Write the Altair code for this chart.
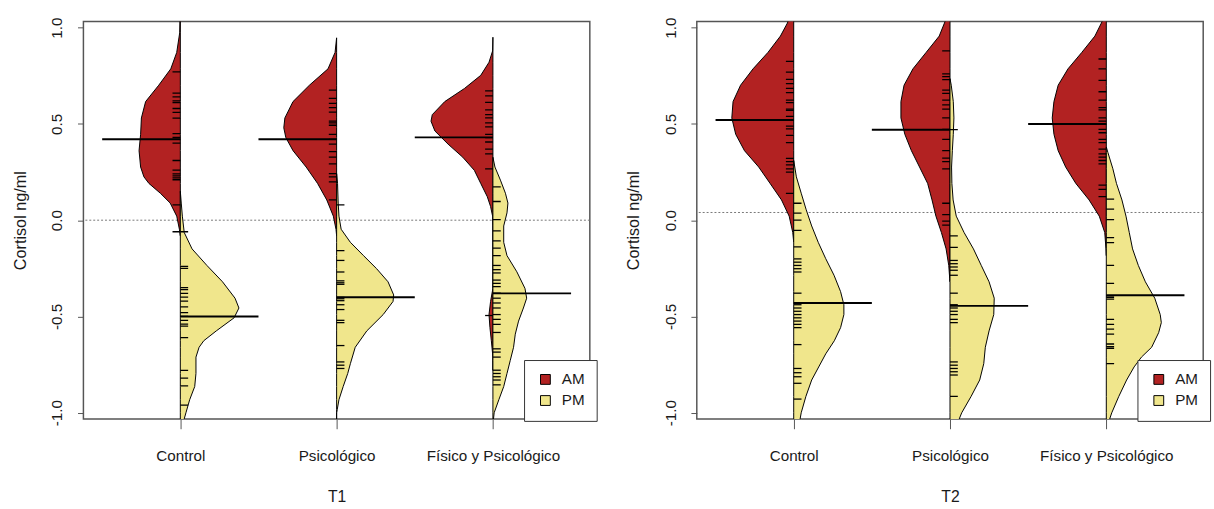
import json
import altair as alt
import pandas as pd

CATEGORIES = ["Control", "Psicológico", "Físico y Psicológico"]
PANELS = ["T1", "T2"]
SESSIONS = ["AM", "PM"]
SESSION_COLORS = ["#B22222", "#F0E68C"]
Y_TICKS = [-1.0, -0.5, 0.0, 0.5, 1.0]

# ---- density outlines (value, half-width in category units) ----
T1_CONTROL_AM_Y = [1.06, 0.973, 0.871, 0.786, 0.701, 0.616, 0.531, 0.446, 0.361, 0.276, 0.225, 0.191, 0.140, 0.089, 0.021, -0.047, -0.081]
T1_CONTROL_AM_W = [0.002, 0.004, 0.023, 0.061, 0.138, 0.222, 0.249, 0.254, 0.264, 0.254, 0.233, 0.201, 0.128, 0.065, 0.023, 0.006, 0.0]
T1_CONTROL_PM_Y = [0.15, 0.089, 0.021, -0.064, -0.149, -0.235, -0.32, -0.405, -0.456, -0.507, -0.575, -0.626, -0.66, -0.711, -0.796, -0.864, -0.932, -1.0, -1.06]
T1_CONTROL_PM_W = [0.0, 0.006, 0.013, 0.025, 0.075, 0.17, 0.27, 0.35, 0.375, 0.344, 0.23, 0.15, 0.12, 0.1, 0.1, 0.092, 0.06, 0.036, 0.015]

T1_PSICO_AM_Y = [0.947, 0.871, 0.786, 0.701, 0.616, 0.531, 0.48, 0.429, 0.361, 0.276, 0.191, 0.105, 0.021, -0.047, -0.081]
T1_PSICO_AM_W = [0.0, 0.01, 0.055, 0.174, 0.279, 0.331, 0.338, 0.325, 0.279, 0.195, 0.122, 0.063, 0.021, 0.004, 0.0]
T1_PSICO_PM_Y = [0.242, 0.191, 0.089, 0.021, -0.047, -0.115, -0.184, -0.252, -0.32, -0.388, -0.422, -0.49, -0.575, -0.66, -0.745, -0.796, -0.864, -0.932, -0.983, -1.0, -1.06]
T1_PSICO_PM_W = [0.0, 0.006, 0.01, 0.015, 0.029, 0.088, 0.172, 0.256, 0.329, 0.365, 0.361, 0.298, 0.193, 0.119, 0.088, 0.071, 0.042, 0.015, 0.004, 0.0, 0.0]

T1_FISICO_AM_Y = [0.95, 0.879, 0.82, 0.752, 0.684, 0.616, 0.548, 0.514, 0.463, 0.395, 0.327, 0.259, 0.191, 0.122, 0.071, 0.021, -0.03, -0.354, -0.422, -0.49, -0.558, -0.626, -0.711, -0.78]
T1_FISICO_AM_W = [0.0, 0.002, 0.025, 0.078, 0.182, 0.308, 0.388, 0.396, 0.371, 0.287, 0.193, 0.119, 0.078, 0.036, 0.015, 0.002, 0.0, 0.0, 0.015, 0.025, 0.019, 0.01, 0.0, 0.0]
T1_FISICO_PM_Y = [0.327, 0.276, 0.208, 0.14, 0.089, 0.038, -0.03, -0.115, -0.184, -0.268, -0.354, -0.405, -0.456, -0.524, -0.592, -0.66, -0.728, -0.796, -0.864, -0.932, -1.0, -1.06]
T1_FISICO_PM_W = [0.0, 0.013, 0.048, 0.08, 0.096, 0.09, 0.069, 0.069, 0.09, 0.153, 0.205, 0.216, 0.195, 0.164, 0.143, 0.132, 0.111, 0.09, 0.069, 0.038, 0.008, 0.0]

T2_CONTROL_AM_Y = [1.06, 1.024, 0.956, 0.871, 0.786, 0.701, 0.616, 0.531, 0.446, 0.361, 0.276, 0.191, 0.105, 0.021, -0.064, -0.115]
T2_CONTROL_AM_W = [0.025, 0.04, 0.085, 0.165, 0.26, 0.34, 0.388, 0.396, 0.371, 0.315, 0.224, 0.151, 0.078, 0.029, 0.006, 0.0]
T2_CONTROL_PM_Y = [0.31, 0.225, 0.14, 0.054, -0.03, -0.115, -0.2, -0.286, -0.371, -0.439, -0.49, -0.558, -0.626, -0.694, -0.762, -0.83, -0.915, -1.0, -1.06]
T2_CONTROL_PM_W = [0.0, 0.017, 0.048, 0.08, 0.115, 0.157, 0.205, 0.258, 0.3, 0.321, 0.321, 0.3, 0.26, 0.205, 0.16, 0.115, 0.078, 0.048, 0.035]

T2_PSICO_AM_Y = [1.06, 1.041, 0.956, 0.871, 0.786, 0.701, 0.616, 0.531, 0.446, 0.361, 0.276, 0.191, 0.105, 0.021, -0.064, -0.149, -0.235, -0.302, -0.32]
T2_PSICO_AM_W = [0.02, 0.027, 0.069, 0.153, 0.237, 0.294, 0.314, 0.314, 0.289, 0.247, 0.195, 0.143, 0.115, 0.09, 0.055, 0.025, 0.008, 0.002, 0.0]
T2_PSICO_PM_Y = [0.735, 0.701, 0.616, 0.531, 0.446, 0.361, 0.276, 0.191, 0.105, 0.021, -0.064, -0.149, -0.235, -0.32, -0.405, -0.49, -0.575, -0.66, -0.745, -0.83, -0.915, -1.0, -1.06]
T2_PSICO_PM_W = [0.0, 0.008, 0.021, 0.025, 0.021, 0.015, 0.01, 0.012, 0.02, 0.04, 0.09, 0.15, 0.2, 0.25, 0.283, 0.28, 0.25, 0.226, 0.216, 0.19, 0.135, 0.075, 0.045]

T2_FISICO_AM_Y = [1.06, 1.041, 0.956, 0.871, 0.786, 0.701, 0.616, 0.531, 0.446, 0.361, 0.276, 0.191, 0.105, 0.021, -0.064, -0.149, -0.184]
T2_FISICO_AM_W = [0.015, 0.021, 0.073, 0.157, 0.245, 0.308, 0.335, 0.346, 0.335, 0.308, 0.26, 0.195, 0.11, 0.045, 0.01, 0.002, 0.0]
T2_FISICO_PM_Y = [0.38, 0.352, 0.267, 0.191, 0.105, 0.021, -0.064, -0.149, -0.235, -0.32, -0.405, -0.49, -0.532, -0.584, -0.66, -0.711, -0.762, -0.83, -0.915, -1.0, -1.06]
T2_FISICO_PM_W = [0.0, 0.01, 0.042, 0.065, 0.1, 0.126, 0.147, 0.168, 0.205, 0.25, 0.31, 0.345, 0.352, 0.335, 0.29, 0.225, 0.178, 0.13, 0.08, 0.035, 0.01]

# ---- individual observations (rug lines) ----
T1_CONTROL_AM_OBS = [0.77, 0.66, 0.64, 0.62, 0.61, 0.58, 0.56, 0.53, 0.45, 0.43, 0.42, 0.40, 0.31, 0.26, 0.24, 0.23, 0.22, 0.21, 0.08, -0.06]
T1_CONTROL_PM_OBS = [-0.06, -0.24, -0.25, -0.35, -0.36, -0.38, -0.40, -0.42, -0.45, -0.48, -0.50, -0.52, -0.54, -0.55, -0.61, -0.78, -0.82, -0.86, -0.96]
T1_PSICO_AM_OBS = [0.675, 0.633, 0.607, 0.585, 0.561, 0.514, 0.505, 0.493, 0.446, 0.42, 0.395, 0.356, 0.327, 0.293, 0.242, 0.225, 0.199, 0.105]
T1_PSICO_PM_OBS = [0.08, -0.158, -0.209, -0.269, -0.315, -0.325, -0.333, -0.401, -0.408, -0.418, -0.439, -0.464, -0.52, -0.532, -0.651, -0.736, -0.753, -0.77]
T1_FISICO_AM_OBS = [0.672, 0.645, 0.612, 0.573, 0.548, 0.531, 0.505, 0.485, 0.446, 0.429, 0.406, 0.369, 0.344, 0.267, -0.495]
T1_FISICO_PM_OBS = [0.173, 0.097, 0.003, -0.056, -0.107, -0.145, -0.184, -0.235, -0.257, -0.274, -0.311, -0.328, -0.345, -0.379, -0.405, -0.43, -0.456, -0.49, -0.515, -0.541, -0.583, -0.668, -0.685, -0.711, -0.779, -0.796, -0.813, -0.83, -0.855]
T2_CONTROL_AM_OBS = [0.825, 0.769, 0.731, 0.709, 0.684, 0.662, 0.624, 0.61, 0.577, 0.57, 0.539, 0.519, 0.488, 0.474, 0.44, 0.403, 0.321, 0.304, 0.287, 0.267, 0.25, 0.139]
T2_CONTROL_PM_OBS = [0.088, 0.037, 0.0, -0.053, -0.138, -0.201, -0.218, -0.235, -0.252, -0.269, -0.379, -0.439, -0.456, -0.473, -0.49, -0.507, -0.524, -0.541, -0.558, -0.646, -0.77, -0.792, -0.813, -0.847, -0.929]
T2_PSICO_AM_OBS = [0.879, 0.76, 0.746, 0.73, 0.675, 0.658, 0.624, 0.599, 0.577, 0.531, 0.471, 0.42, 0.361, 0.322, 0.304, 0.267, 0.088, 0.029, -0.005, -0.026]
T2_PSICO_PM_OBS = [0.47, -0.082, -0.141, -0.209, -0.226, -0.243, -0.26, -0.286, -0.379, -0.439, -0.456, -0.473, -0.49, -0.515, -0.532, -0.736, -0.753, -0.77, -0.787, -0.804, -0.915]
T2_FISICO_AM_OBS = [0.837, 0.786, 0.726, 0.667, 0.624, 0.585, 0.573, 0.531, 0.514, 0.497, 0.471, 0.454, 0.42, 0.403, 0.369, 0.344, 0.327, 0.31, 0.293, 0.182, 0.16, 0.122]
T2_FISICO_PM_OBS = [0.109, 0.058, 0.003, -0.09, -0.116, -0.235, -0.328, -0.393, -0.401, -0.41, -0.515, -0.541, -0.566, -0.592, -0.643, -0.656, -0.665, -0.745]

# ---- group means (bean lines) and overall mean ----
T1_MEAN_AM = [0.42, 0.42, 0.43]
T1_MEAN_PM = [-0.50, -0.40, -0.38]
T2_MEAN_AM = [0.52, 0.47, 0.50]
T2_MEAN_PM = [-0.43, -0.445, -0.39]
OVERALL_MEAN = [0.0, 0.04]

DENSITY = {
    ("T1", "AM"): [(T1_CONTROL_AM_Y, T1_CONTROL_AM_W), (T1_PSICO_AM_Y, T1_PSICO_AM_W), (T1_FISICO_AM_Y, T1_FISICO_AM_W)],
    ("T1", "PM"): [(T1_CONTROL_PM_Y, T1_CONTROL_PM_W), (T1_PSICO_PM_Y, T1_PSICO_PM_W), (T1_FISICO_PM_Y, T1_FISICO_PM_W)],
    ("T2", "AM"): [(T2_CONTROL_AM_Y, T2_CONTROL_AM_W), (T2_PSICO_AM_Y, T2_PSICO_AM_W), (T2_FISICO_AM_Y, T2_FISICO_AM_W)],
    ("T2", "PM"): [(T2_CONTROL_PM_Y, T2_CONTROL_PM_W), (T2_PSICO_PM_Y, T2_PSICO_PM_W), (T2_FISICO_PM_Y, T2_FISICO_PM_W)],
}
OBS = {
    ("T1", "AM"): [T1_CONTROL_AM_OBS, T1_PSICO_AM_OBS, T1_FISICO_AM_OBS],
    ("T1", "PM"): [T1_CONTROL_PM_OBS, T1_PSICO_PM_OBS, T1_FISICO_PM_OBS],
    ("T2", "AM"): [T2_CONTROL_AM_OBS, T2_PSICO_AM_OBS, T2_FISICO_AM_OBS],
    ("T2", "PM"): [T2_CONTROL_PM_OBS, T2_PSICO_PM_OBS, T2_FISICO_PM_OBS],
}
MEANS = {("T1", "AM"): T1_MEAN_AM, ("T1", "PM"): T1_MEAN_PM,
         ("T2", "AM"): T2_MEAN_AM, ("T2", "PM"): T2_MEAN_PM}

RUG_LEN = 0.05
MEAN_LEN = 0.5
FONT = "Liberation Sans"
TXT = "#1a1a1a"

x_scale = alt.Scale(domain=[0.38, 3.62], nice=False, zero=False)
y_scale = alt.Scale(domain=[-1.032, 1.032], nice=False, zero=False)
cat_expr = json.dumps(CATEGORIES, ensure_ascii=False) + "[datum.value - 1]"


def panel(pi, name):
    dens_rows, rug_rows, mean_rows = [], [], []
    for session in SESSIONS:
        sign = -1 if session == "AM" else 1
        for ci in range(len(CATEGORIES)):
            pos = ci + 1
            ys, ws = DENSITY[(name, session)][ci]
            for yv, wv in zip(ys, ws):
                dens_rows.append({"grp": f"{session}{ci}", "session": session,
                                  "y": yv, "xe": pos + sign * wv, "xc": pos})
            for v in OBS[(name, session)][ci]:
                rug_rows.append({"y": v, "x": pos, "x2": pos + sign * RUG_LEN})
            m = MEANS[(name, session)][ci]
            mean_rows.append({"y": m, "x": pos, "x2": pos + sign * MEAN_LEN})

    dens = pd.DataFrame(dens_rows)
    rug = pd.DataFrame(rug_rows)
    means = pd.DataFrame(mean_rows)
    overall = pd.DataFrame({"y": [OVERALL_MEAN[pi]]})

    x_axis = alt.Axis(values=[1, 2, 3], labelExpr=cat_expr, tickSize=10, tickColor="#555",
                      labelPadding=20, labelBaseline="top", domain=False, grid=False,
                      title=name, titlePadding=26, labelFontSize=15.5, titleFontSize=16,
                      labelFont=FONT, titleFont=FONT, titleFontWeight="normal",
                      labelColor=TXT, titleColor=TXT)
    y_axis = alt.Axis(values=Y_TICKS,
                      labelExpr="datum.value < 0 ? '-' + format(-datum.value, '.1f') : format(datum.value, '.1f')",
                      labelAngle=270, labelAlign="center", labelBaseline="middle",
                      labelPadding=21, tickSize=6, tickColor="#555", domain=False, grid=False,
                      title="Cortisol ng/ml", titlePadding=22, labelFontSize=15.5,
                      titleFontSize=16.5, labelFont=FONT, titleFont=FONT,
                      titleFontWeight="normal", labelColor=TXT, titleColor=TXT)

    base_dot = alt.Chart(overall).mark_rule(strokeDash=[2, 2], color="#777", strokeWidth=1).encode(
        y=alt.Y("y:Q", scale=y_scale, axis=y_axis))

    areas = alt.Chart(dens).mark_area(orient="horizontal", stroke="black", strokeWidth=1,
                                      opacity=1, clip=True).encode(
        y=alt.Y("y:Q", scale=y_scale, axis=y_axis),
        x=alt.X("xe:Q", scale=x_scale, axis=x_axis, stack=None),
        x2="xc:Q",
        color=alt.Color("session:N", scale=alt.Scale(domain=SESSIONS, range=SESSION_COLORS),
                        legend=alt.Legend(orient="none", legendX=449, legendY=345, title=None,
                                          symbolType="square", symbolSize=100,
                                          symbolStrokeColor="black", symbolStrokeWidth=1,
                                          fillColor="white", strokeColor="#333",
                                          padding=12, rowPadding=4.5, labelOffset=9,
                                          symbolOffset=2, labelFontSize=15.5, labelFont=FONT,
                                          labelColor=TXT, zindex=1)),
        detail="grp:N",
    )

    rugs = alt.Chart(rug).mark_rule(color="black", strokeWidth=1.3, clip=True).encode(
        y=alt.Y("y:Q", scale=y_scale), x=alt.X("x:Q", scale=x_scale), x2="x2:Q")

    mlines = alt.Chart(means).mark_rule(color="black", strokeWidth=2, clip=True).encode(
        y=alt.Y("y:Q", scale=y_scale), x=alt.X("x:Q", scale=x_scale), x2="x2:Q")

    return alt.layer(base_dot, areas, rugs, mlines).properties(width=516, height=405)


chart = alt.hconcat(panel(0, "T1"), panel(1, "T2"), spacing=27).resolve_legend(
    color="independent"
).properties(
    padding={"left": 12, "top": 11, "right": 2, "bottom": 2},
    background="white",
).configure_view(stroke="#555", strokeWidth=1.5)

chart.save("out.html", embed_options={"renderer": "svg", "actions": False})
